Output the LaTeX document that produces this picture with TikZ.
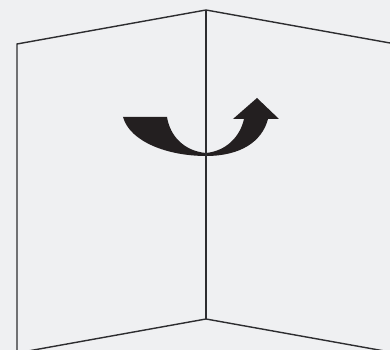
\documentclass[tikz,border=0pt]{standalone}
\usetikzlibrary{math}
\definecolor{mybg}{RGB}{239,240,242}
\definecolor{myline}{RGB}{45,45,48}
\definecolor{myarrow}{RGB}{35,31,32}

\begin{document}
\begin{tikzpicture}[x=0.02cm,y=-0.02cm]
\tikzmath{
\W=390;
\H=350;
\xm=206;
\xl=17;
\xr=390;
\ytop=10;
\ybot=319;
\yl=44;
\yr=43;
}
\fill[mybg] (0,0) rectangle (\W,\H);
\useasboundingbox (0,0) rectangle (\W,\H);
\clip (0,0) rectangle (\W,\H);

\coordinate (Pt) at (\xm,\ytop);%top of the fold
\coordinate (Pb) at (\xm,\ybot);%bottom of the fold
\coordinate (Pl) at (\xl,\yl);
\coordinate (Pr) at (\xr,\yr);
\coordinate (Ql) at (\xl,\ybot+\yl-\ytop);
\coordinate (Qr) at (\xr,\ybot+\yr-\ytop);

%two panels
\draw[myline, line width=0.8pt, line join=miter] (Ql) -- (Pl) -- (Pt) -- (Pr);
\draw[myline, line width=0.8pt] (Pt) -- (Pb);
\draw[myline, line width=0.8pt] (Ql) -- (Pb) -- (Qr);

%turning arrow
\fill[myarrow] (123,117) -- (167,117)
  .. controls (170,136) and (184,151) .. (206,153)
  .. controls (226,151) and (240,137) .. (244,119)
  -- (233,119) -- (257,98) -- (279,119) -- (268,119)
  .. controls (262,142) and (240,156) .. (206,156)
  .. controls (168,156) and (130,142) .. cycle;
\draw[myline, line width=0.8pt] (Pt) -- (Pb);
\end{tikzpicture}
\end{document}
